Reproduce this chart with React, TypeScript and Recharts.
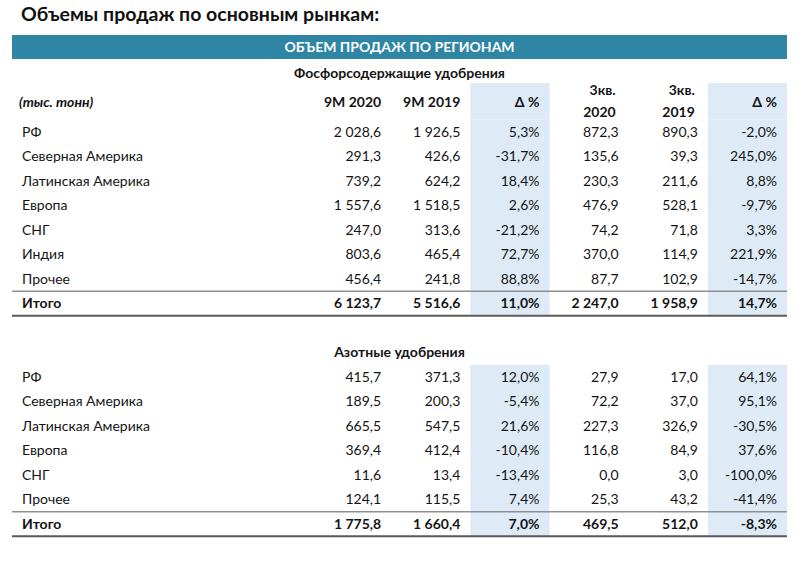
import React from 'react';
import { ScatterChart, Scatter, XAxis, YAxis, ReferenceArea } from 'recharts';

const FONT = "Lato, 'Open Sans', 'Noto Sans', sans-serif";

const titleText = 'Объемы продаж по основным рынкам:';
const bannerText = 'ОБЪЕМ ПРОДАЖ ПО РЕГИОНАМ';
const phosTitle = 'Фосфорсодержащие удобрения';
const nitroTitle = 'Азотные удобрения';
const unitLabel = '(тыс. тонн)';

const columnKeys = ['c1', 'c2', 'c3', 'c4', 'c5', 'c6'];
const columnHeaders = [['9M 2020'], ['9M 2019'], ['Δ %'], ['3кв.', '2020'], ['3кв.', '2019'], ['Δ %']];
const deltaColumns = ['c3', 'c6'];
const percentColumns = ['c3', 'c6'];

// Phosphate fertilizers
const phosRegions = ['РФ', 'Северная Америка', 'Латинская Америка', 'Европа', 'СНГ', 'Индия', 'Прочее', 'Итого'];
const phos9m2020 = [2028.6, 291.3, 739.2, 1557.6, 247.0, 803.6, 456.4, 6123.7];
const phos9m2019 = [1926.5, 426.6, 624.2, 1518.5, 313.6, 465.4, 241.8, 5516.6];
const phos9mDelta = [5.3, -31.7, 18.4, 2.6, -21.2, 72.7, 88.8, 11.0];
const phosQ3y2020 = [872.3, 135.6, 230.3, 476.9, 74.2, 370.0, 87.7, 2247.0];
const phosQ3y2019 = [890.3, 39.3, 211.6, 528.1, 71.8, 114.9, 102.9, 1958.9];
const phosQ3Delta = [-2.0, 245.0, 8.8, -9.7, 3.3, 221.9, -14.7, 14.7];

// Nitrogen fertilizers
const nitroRegions = ['РФ', 'Северная Америка', 'Латинская Америка', 'Европа', 'СНГ', 'Прочее', 'Итого'];
const nitro9m2020 = [415.7, 189.5, 665.5, 369.4, 11.6, 124.1, 1775.8];
const nitro9m2019 = [371.3, 200.3, 547.5, 412.4, 13.4, 115.5, 1660.4];
const nitro9mDelta = [12.0, -5.4, 21.6, -10.4, -13.4, 7.4, 7.0];
const nitroQ3y2020 = [27.9, 72.2, 227.3, 116.8, 0.0, 25.3, 469.5];
const nitroQ3y2019 = [17.0, 37.0, 326.9, 84.9, 3.0, 43.2, 512.0];
const nitroQ3Delta = [64.1, 95.1, -30.5, 37.6, -100.0, -41.4, -8.3];

// ---- layout constants ----
const W = 805;
const H = 562;
const TABLE_LEFT = 12;
const TABLE_RIGHT = 787;
const LABEL_COL_W = 300;
const PLOT_TOP = 119.75;
const PLOT_BOTTOM = 536.25;
const N_ROWS = 17;
const BAND_W = (TABLE_RIGHT - TABLE_LEFT - LABEL_COL_W) / 6;
const BAND_H = (PLOT_BOTTOM - PLOT_TOP) / N_ROWS;
const PAD = 10;
const DELTA_FILL = '#deebf6';
const TEXT = '#141414';
const FS = 14;

function fmt(v: number, pct: boolean) {
  const s = Math.abs(v).toFixed(1);
  const [i, d] = s.split('.');
  const is = i.replace(/\B(?=(\d{3})+(?!\d))/g, ' ');
  return (v < 0 ? '-' : '') + is + ',' + d + (pct ? '%' : '');
}

type RowInfo = { key: string; label: string; kind: 'body' | 'total' | 'gap' | 'section' };
type Pt = { col: string; row: string; text: string; bold: boolean };

const rows: RowInfo[] = [];
const points: Pt[] = [];

function addSection(prefix: string, regions: string[], cols: number[][]) {
  regions.forEach((r, i) => {
    const key = prefix + i;
    const total = i === regions.length - 1;
    rows.push({ key, label: r, kind: total ? 'total' : 'body' });
    cols.forEach((vals, c) => {
      const ck = columnKeys[c];
      points.push({ col: ck, row: key, text: fmt(vals[i], percentColumns.includes(ck)), bold: total });
    });
  });
}

addSection('p', phosRegions, [phos9m2020, phos9m2019, phos9mDelta, phosQ3y2020, phosQ3y2019, phosQ3Delta]);
rows.push({ key: 'gap', label: '', kind: 'gap' });
points.push({ col: 'c1', row: 'gap', text: '', bold: false });
rows.push({ key: 'nh', label: nitroTitle, kind: 'section' });
points.push({ col: 'c1', row: 'nh', text: '', bold: false });
addSection('n', nitroRegions, [nitro9m2020, nitro9m2019, nitro9mDelta, nitroQ3y2020, nitroQ3y2019, nitroQ3Delta]);

const rowMap: Record<string, RowInfo> = {};
rows.forEach((r) => (rowMap[r.key] = r));

function HeaderTick(props: any) {
  const { x, payload, index } = props;
  const key = payload.value as string;
  const ci = columnKeys.indexOf(key);
  const lines = columnHeaders[ci] || [];
  const right = x + BAND_W / 2 - PAD;
  return (
    <g>
      {deltaColumns.includes(key) && (
        <rect x={x - BAND_W / 2} y={83} width={BAND_W} height={PLOT_TOP - 83} fill={DELTA_FILL} />
      )}
      {lines.length === 1 ? (
        <text x={right} y={102} dy="0.35em" textAnchor="end" fontFamily={FONT} fontSize={FS} fontWeight={700} fill={TEXT}>
          {lines[0]}
        </text>
      ) : (
        <g>
          <text x={right - 3} y={90} dy="0.35em" textAnchor="end" fontFamily={FONT} fontSize={FS} fontWeight={700} fill={TEXT}>
            {lines[0]}
          </text>
          <text x={right - 3} y={112} dy="0.35em" textAnchor="end" fontFamily={FONT} fontSize={FS} fontWeight={700} fill={TEXT}>
            {lines[1]}
          </text>
        </g>
      )}
      {index === 0 && (
        <g>
          <text x={(TABLE_LEFT + TABLE_RIGHT) / 2} y={73} dy="0.35em" textAnchor="middle" fontFamily={FONT} fontSize={FS} fontWeight={700} fill={TEXT}>
            {phosTitle}
          </text>
          <text x={19} y={102} dy="0.35em" textAnchor="start" fontFamily={FONT} fontSize={FS} fontWeight={700} fontStyle="italic" fill={TEXT}>
            {unitLabel}
          </text>
        </g>
      )}
    </g>
  );
}

function RowTick(props: any) {
  const { y, payload } = props;
  const r = rowMap[payload.value];
  if (!r) return null;
  if (r.kind === 'section') {
    return (
      <text x={(TABLE_LEFT + TABLE_RIGHT) / 2} y={y} dy="0.35em" textAnchor="middle" fontFamily={FONT} fontSize={FS} fontWeight={700} fill={TEXT}>
        {r.label}
      </text>
    );
  }
  const total = r.kind === 'total';
  return (
    <g>
      {total && (
        <g>
          <line x1={TABLE_LEFT} x2={TABLE_RIGHT} y1={y - BAND_H / 2} y2={y - BAND_H / 2} stroke="#8f8f8f" strokeWidth={1.5} />
          <line x1={TABLE_LEFT} x2={TABLE_RIGHT} y1={y + BAND_H / 2} y2={y + BAND_H / 2} stroke="#5a5a5a" strokeWidth={2} />
        </g>
      )}
      <text x={22} y={y} dy="0.35em" textAnchor="start" fontFamily={FONT} fontSize={FS} fontWeight={total ? 700 : 400} fill={TEXT}>
        {r.label}
      </text>
    </g>
  );
}

function CellText(props: any) {
  const { cx, cy, payload } = props;
  if (!payload || !payload.text) return <g />;
  return (
    <text x={cx + BAND_W / 2 - PAD} y={cy} dy="0.35em" textAnchor="end" fontFamily={FONT} fontSize={FS} fontWeight={payload.bold ? 700 : 400} fill={TEXT}>
      {payload.text}
    </text>
  );
}

export default function App() {
  return (
    <div style={{ position: 'absolute', left: 0, top: 0, width: W, height: H, background: '#fff', fontFamily: FONT }}>
      <div style={{ position: 'absolute', left: 21, top: 2, fontSize: 19.5, fontWeight: 700, color: '#111', whiteSpace: 'nowrap' }}>
        {titleText}
      </div>
      <div
        style={{
          position: 'absolute',
          left: TABLE_LEFT,
          top: 35,
          width: TABLE_RIGHT - TABLE_LEFT,
          height: 24,
          background: '#2e86a4',
          color: '#fff',
          fontSize: 14,
          fontWeight: 700,
          textAlign: 'center',
          lineHeight: '24px',
        }}
      >
        {bannerText}
      </div>
      <ScatterChart width={W} height={H} margin={{ top: 20, right: W - TABLE_RIGHT, bottom: H - PLOT_BOTTOM, left: TABLE_LEFT }}>
        <ReferenceArea x1="c3" x2="c3" y1="p0" y2="p7" fill={DELTA_FILL} fillOpacity={1} stroke="none" />
        <ReferenceArea x1="c6" x2="c6" y1="p0" y2="p7" fill={DELTA_FILL} fillOpacity={1} stroke="none" />
        <ReferenceArea x1="c3" x2="c3" y1="n0" y2="n6" fill={DELTA_FILL} fillOpacity={1} stroke="none" />
        <ReferenceArea x1="c6" x2="c6" y1="n0" y2="n6" fill={DELTA_FILL} fillOpacity={1} stroke="none" />
        <XAxis
          type="category"
          dataKey="col"
          orientation="top"
          height={PLOT_TOP - 20}
          allowDuplicatedCategory={false}
          axisLine={false}
          tickLine={false}
          interval={0}
          tick={<HeaderTick />}
        />
        <YAxis
          type="category"
          dataKey="row"
          width={LABEL_COL_W}
          reversed
          allowDuplicatedCategory={false}
          axisLine={false}
          tickLine={false}
          interval={0}
          tick={<RowTick />}
        />
        <Scatter data={points} shape={CellText} isAnimationActive={false} />
      </ScatterChart>
    </div>
  );
}
